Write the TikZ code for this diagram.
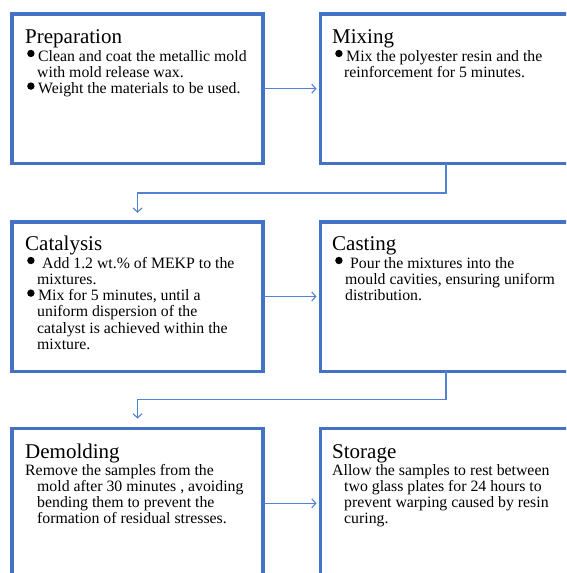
\documentclass[tikz,border=0pt]{standalone}
\usepackage{fontspec}
\setmainfont{Liberation Serif}
\usetikzlibrary{arrows.meta}
\definecolor{boxblue}{RGB}{68,114,196}
\definecolor{linkblue}{RGB}{82,130,214}
\newcommand{\bul}{\makebox[11pt][l]{\tikz[baseline=0pt]\fill (3.7pt,7.5pt) circle (3.7pt);}}
\newcommand{\ind}{\hspace*{10pt}}
\newcommand{\steplines}[1]{\begin{tabular}[t]{@{}l@{}}#1\end{tabular}}
\begin{document}
\begin{tikzpicture}[x=1pt,y=-1pt,
    stage/.style={draw=boxblue,line width=3.5pt,inner sep=0pt,outer sep=0pt,
      minimum width=251pt,minimum height=149.5pt},
    head/.style={anchor=base west,inner sep=0pt,font=\fontsize{21}{21}\selectfont},
    body/.style={anchor=base west,inner sep=0pt,font=\fontsize{15.8}{16.3}\selectfont},
    link/.style={draw=linkblue,line width=1.1pt,-{Straight Barb[length=4pt,width=9pt]}}]
  \useasboundingbox (0,0) rectangle (566,573);
  \clip (0,0) rectangle (566,573);
  \node[stage] (prep) at (137.5,88.75) {};
  \node[stage] (mix) at (446,88.75) {};
  \node[stage] (cat) at (137.5,296.5) {};
  \node[stage] (cast) at (446,296.5) {};
  \node[stage] (demold) at (137.5,503.25) {};
  \node[stage] (store) at (446,503.25) {};
  \node[head] (prep-t) at (25,43) {Preparation};
  \node[body] (prep-b) at (27,61) {\steplines{\bul Clean and coat the metallic mold\\
    \ind with mold release wax.\\
    \bul Weight the materials to be used.}};
  \node[head] (mix-t) at (332,43) {Mixing};
  \node[body] (mix-b) at (335,61) {\steplines{\bul Mix the polyester resin and the\\
    \hspace*{9pt}reinforcement for 5 minutes.}};
  \node[head] (cat-t) at (25,250) {Catalysis};
  \node[body] (cat-b) at (27,268) {\steplines{\bul\hspace*{4pt}Add 1.2 wt.\% of MEKP to the\\
    \ind mixtures.\\
    \bul Mix for 5 minutes, until a\\
    \ind uniform dispersion of the\\
    \ind catalyst is achieved within the\\
    \ind mixture.}};
  \node[head] (cast-t) at (332,250) {Casting};
  \node[body] (cast-b) at (335,268) {\steplines{\bul\hspace*{4pt}Pour the mixtures into the\\
    \ind mould cavities, ensuring uniform\\
    \ind distribution.}};
  \node[head] (demold-t) at (25,458) {Demolding};
  \node[body] (demold-b) at (25,475) {\steplines{Remove the samples from the\\
    \hspace*{12pt}mold after 30 minutes , avoiding\\
    \hspace*{12pt}bending them to prevent the\\
    \hspace*{12pt}formation of residual stresses.}};
  \node[head] (store-t) at (332,458) {Storage};
  \node[body] (store-b) at (332,475) {\steplines{Allow the samples to rest between\\
    \hspace*{12pt}two glass plates for 24 hours to\\
    \hspace*{12pt}prevent warping caused by resin\\
    \hspace*{12pt}curing.}};
  \draw[link,shorten >=4pt] (prep.east) -- (mix.west);
  \draw[link,shorten >=9pt] (mix.south) -- ++(0,29.5) -| (cat.north);
  \draw[link,shorten >=4pt] (cat.east) -- (cast.west);
  \draw[link,shorten >=10pt] (cast.south) -- ++(0,28.5) -| (demold.north);
  \draw[link,shorten >=4pt] (demold.east) -- (store.west);
\end{tikzpicture}
\end{document}
